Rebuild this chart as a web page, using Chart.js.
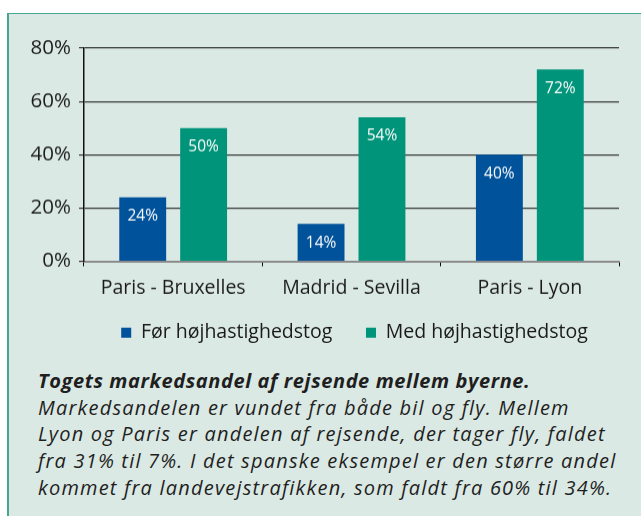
<!DOCTYPE html>
<html>
<head>
<meta charset="utf-8">
<script src="https://cdn.jsdelivr.net/npm/chart.js@4/dist/chart.umd.min.js"></script>
<style>
  html, body { margin: 0; padding: 0; background: #fff; }
  #page { position: relative; width: 641px; height: 516px; overflow: hidden; background: #fff; }
  #panel { position: absolute; left: 7px; top: 13px; width: 640px; height: 520px;
           background: #dbe9e4; border-top: 1px solid #45a88e; border-left: 2px solid #45a88e; }
  #wrap { position: absolute; left: 8px; top: 14px; width: 692px; height: 337.5px; }
  #caption { position: absolute; left: 38px; top: 368px; font-family: "Open Sans", sans-serif;
             font-style: italic; font-size: 20px; line-height: 26.7px; letter-spacing: 1.2px;
             color: #1f1f1f; white-space: nowrap; }
  #caption b { font-weight: bold; letter-spacing: 0.6px; }
</style>
</head>
<body>
<div id="page">
  <div id="panel"></div>
  <div id="wrap"><canvas id="myChart"></canvas></div>
  <div id="caption">
    <b>Togets markedsandel af rejsende mellem byerne.</b><br>
    Markedsandelen er vundet fra både bil og fly. Mellem<br>
    Lyon og Paris er andelen af rejsende, der tager fly, faldet<br>
    fra 31% til 7%. I det spanske eksempel er den større andel<br>
    kommet fra landevejstrafikken, som faldt fra 60% til 34%.
  </div>
</div>
<script>
var routes = ["Paris - Bruxelles", "Madrid - Sevilla", "Paris - Lyon"];
var before = [24, 14, 40];
var after = [50, 54, 72];
var seriesNames = ["Før højhastighedstog", "Med højhastighedstog"];
var yTicks = [0, 20, 40, 60, 80];

var font = "'Open Sans', sans-serif";

// white value labels just inside the top of each bar
var barLabels = {
    id: 'barLabels',
    afterDatasetsDraw: function (chart) {
        var c = chart.ctx;
        c.save();
        c.fillStyle = '#ffffff';
        c.font = '15.5px ' + font;
        c.textAlign = 'center';
        c.textBaseline = 'middle';
        chart.data.datasets.forEach(function (ds, i) {
            chart.getDatasetMeta(i).data.forEach(function (bar, j) {
                c.fillText(ds.data[j] + '%', bar.x, bar.y + 19);
            });
        });
        c.restore();
    }
};

// legend sits centred under the plot, not under the whole canvas
var legendShift = {
    id: 'legendShift',
    afterLayout: function (chart) {
        chart.legend.left += 41;
        chart.legend.right += 41;
    }
};

var ctx = document.getElementById("myChart");
new Chart(ctx, {
    type: 'bar',
    data: {
        labels: routes,
        datasets: [
            { label: seriesNames[0], data: before, backgroundColor: "#00529b" },
            { label: seriesNames[1], data: after, backgroundColor: "#00947a" }
        ]
    },
    options: {
        responsive: true,
        maintainAspectRatio: false,
        animation: false,
        categoryPercentage: 0.683,
        barPercentage: 0.77,
        layout: { padding: { top: 34, right: 81, left: 0, bottom: 0 } },
        plugins: {
            legend: {
                position: 'bottom',
                labels: {
                    boxWidth: 10, boxHeight: 10, padding: 23.5,
                    color: '#1a1a1a',
                    font: { family: font, size: 19.5 },
                    generateLabels: function (chart) {
                        // a little extra room after the first entry
                        var items = Chart.defaults.plugins.legend.labels.generateLabels(chart);
                        items[0].text = items[0].text + '  ';
                        return items;
                    }
                }
            },
            tooltip: { enabled: false }
        },
        scales: {
            x: {
                grid: { offset: true, drawOnChartArea: false, color: '#000', tickLength: 5, lineWidth: 1 },
                border: { color: '#8a8a8a', width: 2 },
                ticks: { color: '#1a1a1a', padding: 10, font: { family: font, size: 19.5 } },
                afterFit: function (s) { s.height = 38; }
            },
            y: {
                min: 0, max: 80,
                afterBuildTicks: function (s) { s.ticks = yTicks.map(function (v) { return { value: v }; }); },
                grid: { color: '#333', lineWidth: 1.2, tickLength: 5 },
                border: { color: '#111', width: 1.5 },
                ticks: {
                    color: '#1a1a1a', padding: 8,
                    font: { family: font, size: 20.5 },
                    callback: function (v) { return v + '%'; }
                },
                afterFit: function (s) { s.width = 76; }
            }
        }
    },
    plugins: [barLabels, legendShift]
});
</script>
</body>
</html>
